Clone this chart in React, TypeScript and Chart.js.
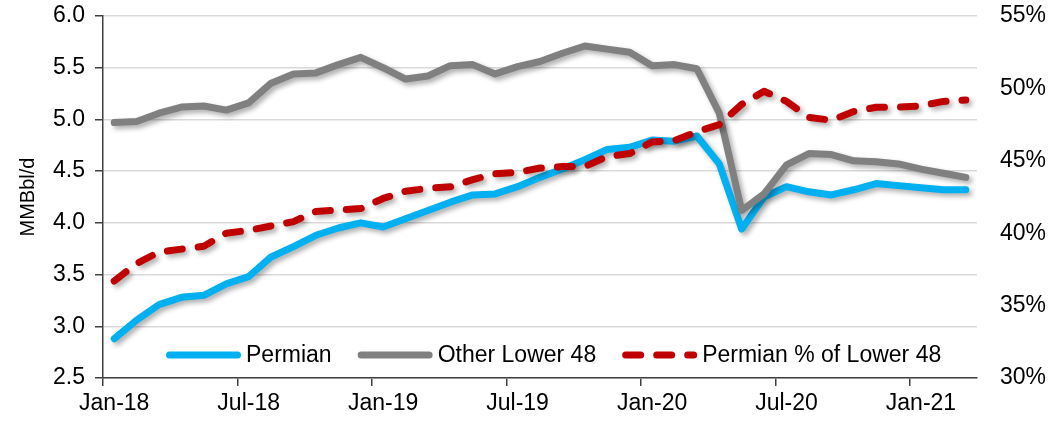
import React, { useEffect, useRef } from 'react';
import { Chart, registerables } from 'chart.js';

Chart.register(...registerables);

const months = [
  'Jan-18', 'Feb-18', 'Mar-18', 'Apr-18', 'May-18', 'Jun-18', 'Jul-18', 'Aug-18', 'Sep-18', 'Oct-18', 'Nov-18', 'Dec-18',
  'Jan-19', 'Feb-19', 'Mar-19', 'Apr-19', 'May-19', 'Jun-19', 'Jul-19', 'Aug-19', 'Sep-19', 'Oct-19', 'Nov-19', 'Dec-19',
  'Jan-20', 'Feb-20', 'Mar-20', 'Apr-20', 'May-20', 'Jun-20', 'Jul-20', 'Aug-20', 'Sep-20', 'Oct-20', 'Nov-20', 'Dec-20',
  'Jan-21', 'Feb-21', 'Mar-21',
];

const xTickLabels = ['Jan-18', 'Jul-18', 'Jan-19', 'Jul-19', 'Jan-20', 'Jul-20', 'Jan-21'];

const permian = [
  2.88, 3.06, 3.21, 3.28, 3.30, 3.41, 3.48, 3.67, 3.77, 3.88, 3.95, 4.00,
  3.96, 4.04, 4.12, 4.20, 4.27, 4.28, 4.35, 4.44, 4.52, 4.61, 4.71, 4.73,
  4.80, 4.79, 4.84, 4.57, 3.94, 4.25, 4.35, 4.30, 4.27, 4.32, 4.38, 4.36,
  4.34, 4.32, 4.32,
];

const otherLower48 = [
  4.97, 4.98, 5.06, 5.12, 5.13, 5.09, 5.16, 5.35, 5.44, 5.45, 5.53, 5.60,
  5.50, 5.39, 5.42, 5.52, 5.53, 5.44, 5.51, 5.56, 5.64, 5.71, 5.68, 5.65,
  5.52, 5.53, 5.49, 5.06, 4.12, 4.28, 4.56, 4.67, 4.66, 4.60, 4.59, 4.57,
  4.52, 4.48, 4.44,
];

const permianShare = [
  36.7, 37.9, 38.7, 38.9, 39.1, 40.0, 40.2, 40.5, 40.8, 41.5, 41.6, 41.7,
  42.4, 42.9, 43.1, 43.2, 43.7, 44.1, 44.2, 44.5, 44.6, 44.6, 45.3, 45.5,
  46.3, 46.4, 47.0, 47.5, 48.9, 49.8, 49.1, 48.0, 47.8, 48.4, 48.7, 48.7,
  48.8, 49.1, 49.2,
];

const FONT = '"Liberation Sans", Arial, sans-serif';
const AXIS_COLOR = '#404040';

const shadowPlugin = {
  id: 'lineShadow',
  beforeDatasetDraw(chart: any) {
    const ctx = chart.ctx;
    ctx.save();
    ctx.shadowColor = 'rgba(0,0,0,0.32)';
    ctx.shadowBlur = 5;
    ctx.shadowOffsetX = 3;
    ctx.shadowOffsetY = 3;
  },
  afterDatasetDraw(chart: any) {
    chart.ctx.restore();
  },
};

const legendPlugin = {
  id: 'inlineLegend',
  afterDatasetsDraw(chart: any) {
    const { ctx, chartArea } = chart;
    const y = chartArea.bottom - 23;
    let x = chartArea.left + 63;
    ctx.save();
    ctx.font = `23px ${FONT}`;
    ctx.textBaseline = 'middle';
    ctx.textAlign = 'left';
    chart.data.datasets.forEach((ds: any) => {
      ctx.save();
      ctx.strokeStyle = ds.borderColor;
      ctx.lineWidth = ds.borderWidth;
      ctx.lineCap = 'round';
      ctx.setLineDash(ds.borderDash || []);
      ctx.beginPath();
      ctx.moveTo(x + 3.5, y);
      ctx.lineTo(x + 71.5, y);
      ctx.stroke();
      ctx.restore();
      x += 80;
      ctx.fillStyle = '#000';
      ctx.fillText(ds.label, x, y + 1);
      x += ctx.measureText(ds.label).width + 26;
    });
    ctx.restore();
  },
};

const zeroPad = (s: any) => {
  s.paddingTop = 0;
  s.paddingBottom = 0;
  s.paddingLeft = 0;
  s.paddingRight = 0;
};

export default function App() {
  const canvasRef = useRef<HTMLCanvasElement | null>(null);

  useEffect(() => {
    if (!canvasRef.current) return;
    Chart.defaults.font.family = FONT;
    Chart.defaults.color = '#000';
    const chart = new Chart(canvasRef.current, {
      type: 'line',
      data: {
        labels: months,
        datasets: [
          {
            label: 'Permian',
            data: permian,
            yAxisID: 'y',
            borderColor: '#00B0F0',
            borderWidth: 7,
            pointRadius: 0,
            tension: 0,
            borderCapStyle: 'round',
            borderJoinStyle: 'round',
            order: 3,
          },
          {
            label: 'Other Lower 48',
            data: otherLower48,
            yAxisID: 'y',
            borderColor: '#808080',
            borderWidth: 7,
            pointRadius: 0,
            tension: 0,
            borderCapStyle: 'round',
            borderJoinStyle: 'round',
            order: 2,
          },
          {
            label: 'Permian % of Lower 48',
            data: permianShare,
            yAxisID: 'y1',
            borderColor: '#C00000',
            borderWidth: 7,
            borderDash: [15, 16],
            pointRadius: 0,
            tension: 0,
            borderCapStyle: 'round',
            borderJoinStyle: 'round',
            order: 1,
          },
        ],
      },
      options: {
        animation: false,
        responsive: true,
        maintainAspectRatio: false,
        layout: { padding: { top: 16, left: 0, right: 0, bottom: 0 } },
        plugins: {
          legend: { display: false },
          tooltip: { enabled: false },
        },
        scales: {
          x: {
            type: 'category',
            offset: true,
            grid: {
              offset: true,
              drawOnChartArea: false,
              tickLength: 8,
              lineWidth: 1.5,
              tickColor: (c: any) => (c.index % 6 === 0 ? AXIS_COLOR : 'rgba(0,0,0,0)'),
            },
            border: { color: AXIS_COLOR, width: 1.5 },
            ticks: {
              autoSkip: false,
              maxRotation: 0,
              minRotation: 0,
              padding: 4,
              font: { size: 23 },
              color: '#000',
              callback: (_v: any, i: number) => (i % 6 === 0 ? xTickLabels[i / 6] : ''),
            },
            afterFit: (s: any) => {
              s.height = 43;
              zeroPad(s);
            },
          },
          y: {
            type: 'linear',
            position: 'left',
            min: 2.5,
            max: 6,
            grid: {
              color: '#D9D9D9',
              lineWidth: 1.5,
              tickLength: 8,
              tickColor: AXIS_COLOR,
            },
            border: { color: AXIS_COLOR, width: 1.5 },
            ticks: {
              stepSize: 0.5,
              padding: 10,
              font: { size: 23 },
              color: '#000',
              callback: (v: any) => Number(v).toFixed(1),
            },
            title: {
              display: true,
              text: 'MMBbl/d',
              font: { size: 20 },
              color: '#000',
              padding: { top: 16, bottom: 0 },
            },
            afterFit: (s: any) => {
              s.width = 103;
              zeroPad(s);
            },
          },
          y1: {
            type: 'linear',
            position: 'right',
            min: 30,
            max: 55,
            grid: { drawOnChartArea: false, drawTicks: false },
            border: { display: false },
            ticks: {
              stepSize: 5,
              padding: 23,
              font: { size: 23 },
              color: '#000',
              callback: (v: any) => `${v}%`,
            },
            afterFit: (s: any) => {
              s.width = 71;
              zeroPad(s);
            },
          },
        },
      },
      plugins: [shadowPlugin, legendPlugin],
    });
    return () => chart.destroy();
  }, []);

  return (
    <div style={{ position: 'fixed', left: 0, top: 0, width: 1048, height: 421, background: '#fff' }}>
      <canvas ref={canvasRef} />
    </div>
  );
}
